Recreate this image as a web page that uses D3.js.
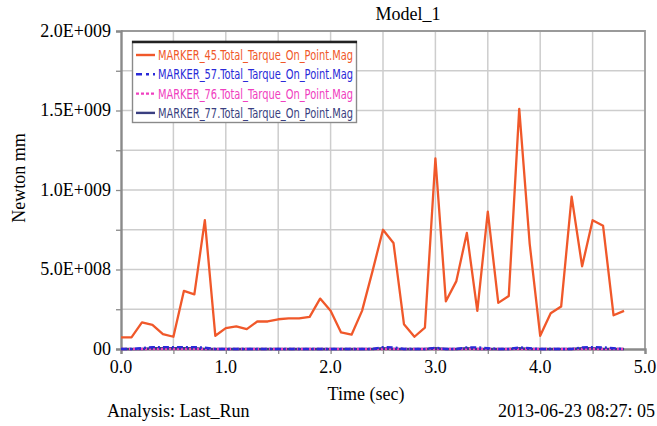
<!DOCTYPE html>
<html>
<head>
<meta charset="utf-8">
<script src="https://cdn.jsdelivr.net/npm/d3@7"></script>
<style>
  body { margin: 0; background: #fff; }
  svg { display: block; }
</style>
</head>
<body>
<svg id="chart" width="657" height="426"></svg>
<script>
// time steps (sec)
const time = d3.range(49).map(i => +(i * 0.1).toFixed(1));

// MARKER_45 torque magnitude (Newton mm)
const marker45 = [
  0.73e8, 0.73e8, 1.67e8, 1.52e8, 0.94e8, 0.77e8, 3.65e8, 3.44e8, 8.1e8, 0.83e8,
  1.31e8, 1.42e8, 1.25e8, 1.73e8, 1.73e8, 1.87e8, 1.92e8, 1.92e8, 2.02e8, 3.17e8,
  2.4e8, 1.04e8, 0.9e8, 2.4e8, 4.9e8, 7.5e8, 6.67e8, 1.56e8, 0.77e8, 1.35e8,
  11.98e8, 3.0e8, 4.27e8, 7.3e8, 2.4e8, 8.64e8, 2.9e8, 3.33e8, 15.1e8, 6.6e8,
  0.83e8, 2.25e8, 2.67e8, 9.58e8, 5.2e8, 8.1e8, 7.75e8, 2.12e8, 2.4e8
];
// the other markers stay close to zero
const marker57 = [
  0, 0, 0.5e7, 1.2e7, 1.2e7, 1.2e7, 1.2e7, 1.2e7, 0.8e7, 0,
  0, 0, 0, 0, 0, 0, 0, 0, 0, 0,
  0, 0, 0, 0, 0, 1.2e7, 1.0e7, 0, 0, 0,
  0.8e7, 0, 0, 1.0e7, 1.0e7, 0.5e7, 0, 0, 1.0e7, 0.5e7,
  0, 0, 0, 0, 1.0e7, 1.2e7, 1.0e7, 0.5e7, 0
];
const marker76 = time.map(() => 0);
const marker77 = [
  0, 0, 0, 0.4e7, 0.4e7, 0.4e7, 0.4e7, 0.4e7, 0, 0,
  0, 0, 0, 0, 0, 0, 0, 0, 0, 0,
  0, 0, 0, 0, 0, 0.4e7, 0, 0, 0, 0,
  0.4e7, 0, 0, 0.4e7, 0, 0, 0, 0, 0.4e7, 0,
  0, 0, 0, 0, 0.4e7, 0.4e7, 0, 0, 0
];

const seriesNames = [
  "MARKER_45.Total_Tarque_On_Point.Mag",
  "MARKER_57.Total_Tarque_On_Point.Mag",
  "MARKER_76.Total_Tarque_On_Point.Mag",
  "MARKER_77.Total_Tarque_On_Point.Mag"
];
const seriesValues = [marker45, marker57, marker76, marker77];
const seriesColors = ["#f0582a", "#2a2ad8", "#f040c0", "#3a3f80"];
const seriesDash = [null, "6,3,2,3", "2,2", null];

const xTicks = [0, 1, 2, 3, 4, 5];
const yTicks = [0, 5e8, 1e9, 1.5e9, 2e9];
const yTickLabels = ["00", "5.0E+008", "1.0E+009", "1.5E+009", "2.0E+009"];

const svg = d3.select("#chart");
const serif = "'Liberation Serif', 'Times New Roman', serif";

const x = d3.scaleLinear().domain([0, 5]).range([121, 645]);
const y = d3.scaleLinear().domain([0, 2e9]).range([349, 31]);

// grid
svg.append("g")
  .selectAll("line")
  .data(d3.range(0.5, 5, 0.5))
  .enter().append("line")
  .attr("x1", d => x(d)).attr("x2", d => x(d))
  .attr("y1", y(2e9)).attr("y2", y(0))
  .attr("stroke", "#cdcdcd").attr("stroke-width", 1.5);
svg.append("g")
  .selectAll("line")
  .data(d3.range(2.5e8, 2e9, 2.5e8))
  .enter().append("line")
  .attr("x1", x(0)).attr("x2", x(5))
  .attr("y1", d => y(d)).attr("y2", d => y(d))
  .attr("stroke", "#cdcdcd").attr("stroke-width", 1.5);

// frame top and right
svg.append("path")
  .attr("d", `M${x(0)},${y(2e9)}H${x(5)}V${y(0)}`)
  .attr("fill", "none").attr("stroke", "#9a9a9a").attr("stroke-width", 1.8);

// axes
const yAxis = svg.append("g")
  .attr("transform", `translate(${x(0)},0)`)
  .call(d3.axisLeft(y).tickValues(d3.range(0, 2e9 + 1, 2.5e8)).tickSize(5).tickFormat(""));
yAxis.select(".domain").attr("stroke", "#8a8a8a").attr("stroke-width", 2.4);
yAxis.selectAll(".tick line").attr("stroke", "#8a8a8a").attr("stroke-width", 1.3);

const xAxis = svg.append("g")
  .attr("transform", `translate(0,${y(0)})`)
  .call(d3.axisBottom(x).tickValues(d3.range(0, 5.01, 0.5)).tickSize(5).tickFormat(""));
xAxis.select(".domain").attr("stroke", "#8a8a8a").attr("stroke-width", 2.4);
xAxis.selectAll(".tick line").attr("stroke", "#8a8a8a").attr("stroke-width", 1.3);

// tick labels
svg.append("g")
  .selectAll("text")
  .data(yTicks)
  .enter().append("text")
  .attr("x", 111)
  .attr("y", d => y(d))
  .attr("dy", "0.33em")
  .attr("text-anchor", "end")
  .attr("font-family", serif)
  .attr("font-size", "18px")
  .text((d, i) => yTickLabels[i]);

svg.append("g")
  .selectAll("text")
  .data(xTicks)
  .enter().append("text")
  .attr("x", d => x(d))
  .attr("y", 373)
  .attr("text-anchor", "middle")
  .attr("font-family", serif)
  .attr("font-size", "18px")
  .text(d => d3.format(".1f")(d));

// series lines
const line = d3.line()
  .x((d, i) => x(time[i]))
  .y(d => y(d));

[3, 2, 1, 0].forEach(k => {
  svg.append("path")
    .datum(seriesValues[k])
    .attr("d", line)
    .attr("fill", "none")
    .attr("stroke", seriesColors[k])
    .attr("stroke-width", k === 0 ? 2.3 : (k === 3 ? 2.6 : 2.4))
    .attr("stroke-dasharray", seriesDash[k])
    .attr("stroke-linejoin", "round");
});

// legend
const lg = svg.append("g");
lg.append("rect")
  .attr("x", 132.5).attr("y", 41.5)
  .attr("width", 224).attr("height", 81)
  .attr("fill", "#fff").attr("stroke", "#8a8a8a").attr("stroke-width", 1.4);
lg.append("line")
  .attr("x1", 132).attr("x2", 357).attr("y1", 42).attr("y2", 42)
  .attr("stroke", "#222").attr("stroke-width", 2.5);

const item = lg.selectAll("g.item")
  .data(seriesNames)
  .enter().append("g")
  .attr("transform", (d, i) => `translate(0,${55 + i * 19.3})`);

item.append("line")
  .attr("x1", 136).attr("x2", 155)
  .attr("y1", 0).attr("y2", 0)
  .attr("stroke", (d, i) => seriesColors[i])
  .attr("stroke-width", 2.4)
  .attr("stroke-dasharray", (d, i) => i === 1 ? "6,4,3,4" : (i === 2 ? "3,2" : null));

item.append("text")
  .attr("x", 158)
  .attr("y", 5)
  .attr("font-family", "'Liberation Sans Narrow', 'DejaVu Sans Condensed', sans-serif")
  .attr("font-size", "14px")
  .attr("textLength", 195)
  .attr("lengthAdjust", "spacingAndGlyphs")
  .attr("fill", (d, i) => seriesColors[i])
  .text(d => d);

// titles
svg.append("text")
  .attr("x", 408).attr("y", 20)
  .attr("text-anchor", "middle")
  .attr("font-family", serif).attr("font-size", "18px")
  .text("Model_1");

svg.append("text")
  .attr("transform", "rotate(-90)")
  .attr("x", -178).attr("y", 25)
  .attr("text-anchor", "middle")
  .attr("font-family", serif).attr("font-size", "18px")
  .text("Newton mm");

svg.append("text")
  .attr("x", 366).attr("y", 400)
  .attr("text-anchor", "middle")
  .attr("font-family", serif).attr("font-size", "18px")
  .text("Time (sec)");

svg.append("text")
  .attr("x", 107).attr("y", 417)
  .attr("font-family", serif).attr("font-size", "18px")
  .text("Analysis: Last_Run");

svg.append("text")
  .attr("x", 655).attr("y", 417)
  .attr("text-anchor", "end")
  .attr("font-family", serif).attr("font-size", "18px")
  .text("2013-06-23 08:27: 05");
</script>
</body>
</html>
